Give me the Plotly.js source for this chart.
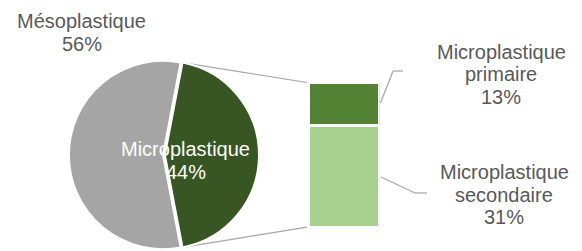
<!DOCTYPE html>
<html><head><meta charset="utf-8">
<script src="https://cdn.plot.ly/plotly-3.0.1.min.js"></script>
<style>html,body{margin:0;padding:0;background:#fff}#chart{width:582px;height:251px}</style>
</head><body><div id="chart"></div>
<script>
// ---- data ----
const pieLabels = ['Microplastique', 'Mésoplastique'];
const pieValues = [44, 56];
const pieColors = ['#375623', '#A5A5A5'];
const barLabels = ['Microplastique secondaire', 'Microplastique primaire'];
const barValues = [31, 13];
const barColors = ['#A9D18E', '#548235'];

// ---- geometry helpers ----
const W = 582, H = 251;
const px = x => x / W, py = y => 1 - y / H;
const FONT = 'Liberation Sans, Arial, sans-serif';
const TXT = '#595959', LINE = '#A6A6A6';

const pieCx = 163, pieHalfBox = 96;
const pull = 0.02;
const r = (2 * pieHalfBox) / (2 + 2 * pull);
const cy = H - pieHalfBox;
const total = pieValues.reduce((a, b) => a + b, 0);
const halfAngle = pieValues[0] / total * 180;
const rotation = 90 - halfAngle;
const th = rotation * Math.PI / 180;
const topPt = [pieCx + r * Math.sin(th) + pull * r, cy - r * Math.cos(th)];
const botPt = [pieCx + r * Math.sin(th) + pull * r, cy + r * Math.cos(th)];

const barX = [308.5, 379.8], barY = [82.5, 227.2];

const traces = [{
  type: 'pie', labels: pieLabels, values: pieValues, sort: false,
  direction: 'clockwise', rotation: rotation, pull: [pull, 0],
  marker: {colors: pieColors, line: {color: '#ffffff', width: 2}},
  textinfo: 'none', hoverinfo: 'none', showlegend: false,
  domain: {x: [px(pieCx - 110), px(pieCx + 110)], y: [0, 2 * pieHalfBox / H]}
}];
barLabels.forEach((lab, i) => traces.push({
  type: 'bar', x: [0], y: [barValues[i]], width: [1], name: lab,
  marker: {color: barColors[i], line: {color: '#ffffff', width: 3}},
  hoverinfo: 'none', showlegend: false, textposition: 'none'
}));

function lineAnn(textLines, cx, baselines, color) {
  return textLines.map((t, i) => ({
    text: t, x: px(cx), y: py(baselines[i] - 7), xref: 'paper', yref: 'paper',
    xanchor: 'center', yanchor: 'middle', showarrow: false,
    font: {family: FONT, size: 20, color: color}
  }));
}
const annotations = [].concat(
  lineAnn([pieLabels[1], pieValues[1] + '%'], 81.5, [27.5, 50.5], TXT),
  lineAnn([pieLabels[0], pieValues[0] + '%'], 186, [156, 179], '#ffffff'),
  lineAnn(barLabels[1].split(' ').concat([barValues[1] + '%']), 501, [59, 81.5, 104], TXT),
  lineAnn(barLabels[0].split(' ').concat([barValues[0] + '%']), 504, [179, 201.5, 224], TXT)
);

function seg(a, b, layer) {
  return {type: 'line', xref: 'paper', yref: 'paper', layer: layer || 'above',
    x0: px(a[0]), y0: py(a[1]), x1: px(b[0]), y1: py(b[1]),
    line: {color: LINE, width: 1.25}};
}
const shapes = [
  seg(topPt, [barX[0] - 1.5, barY[0]], 'below'),
  seg(botPt, [barX[0] - 1.5, barY[1]], 'below'),
  seg([380.5, 103], [393, 71]), seg([393, 71], [403, 71]),
  seg([381, 177], [415, 193]), seg([415, 193], [427, 193])
];

const layout = {
  width: W, height: H, margin: {l: 0, r: 0, t: 0, b: 0, pad: 0},
  paper_bgcolor: '#ffffff', plot_bgcolor: 'rgba(0,0,0,0)',
  showlegend: false, barmode: 'stack', bargap: 0,
  xaxis: {domain: [px(barX[0]), px(barX[1])], range: [-0.5, 0.5], visible: false, fixedrange: true},
  yaxis: {domain: [py(barY[1]), py(barY[0])], range: [0, barValues.reduce((a, b) => a + b, 0)], visible: false, fixedrange: true},
  annotations: annotations, shapes: shapes
};
Plotly.newPlot('chart', traces, layout, {staticPlot: true, displayModeBar: false});
</script></body></html>
